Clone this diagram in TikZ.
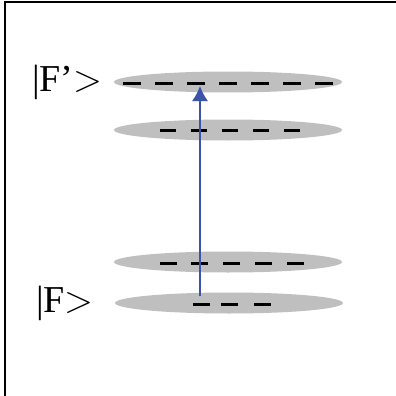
\documentclass[tikz,border=0pt]{standalone}
\usepackage{fontspec}
\setmainfont{Liberation Serif}
\newfontfamily\lmfont{Latin Modern Roman}
\usetikzlibrary{shapes.geometric,arrows.meta}
\definecolor{arrowblue}{RGB}{59,84,170}
\newcommand{\ket}{{\lmfont >}}
\tikzset{
  level/.style={ellipse,fill=gray!50,minimum width=228pt,minimum height=21pt,inner sep=0pt},
  sublevel/.style={line width=3pt,black},
  lbl/.style={inner sep=0pt,anchor=base west,font=\fontsize{38}{40}\selectfont},
  transition/.style={arrowblue,line width=1.5pt,-{Latex[length=15pt,width=16pt]}}
}
\begin{document}
\begin{tikzpicture}[x=1pt,y=-1pt]
  \useasboundingbox (0,0) rectangle (396,396);
  %cornice
  \draw[line width=2pt] (5,396) -- (5,2) -- (396,2);
  %livelli
  \node[level] (lvlA) at (228,82) {};
  \node[level] (lvlB) at (228,130) {};
  \node[level] (lvlC) at (228,262) {};
  \node[level] (lvlD) at (229,303) {};
  %sottolivelli
  \foreach \x in {123,155,187,219,251,283,315}
    \draw[sublevel] (\x,83) -- ++(18,0);
  \foreach \x in {160,191,222,253,284}
    \draw[sublevel] (\x,130) -- ++(16,0);
  \foreach \x in {160,191,223,255,287}
    \draw[sublevel] (\x,263) -- ++(17,0);
  \foreach \x in {193,221,254}
    \draw[sublevel] (\x,304) -- ++(17,0);
  %etichette
  \node[lbl] (labFp) at (32,92) {|F’\ket};
  \node[lbl] (labF) at (36,312) {|F\ket};
  %freccia
  \coordinate (lo) at (200,296);
  \coordinate (hi) at (200,86);
  \draw[transition] (lo) -- (hi);
\end{tikzpicture}
\end{document}
